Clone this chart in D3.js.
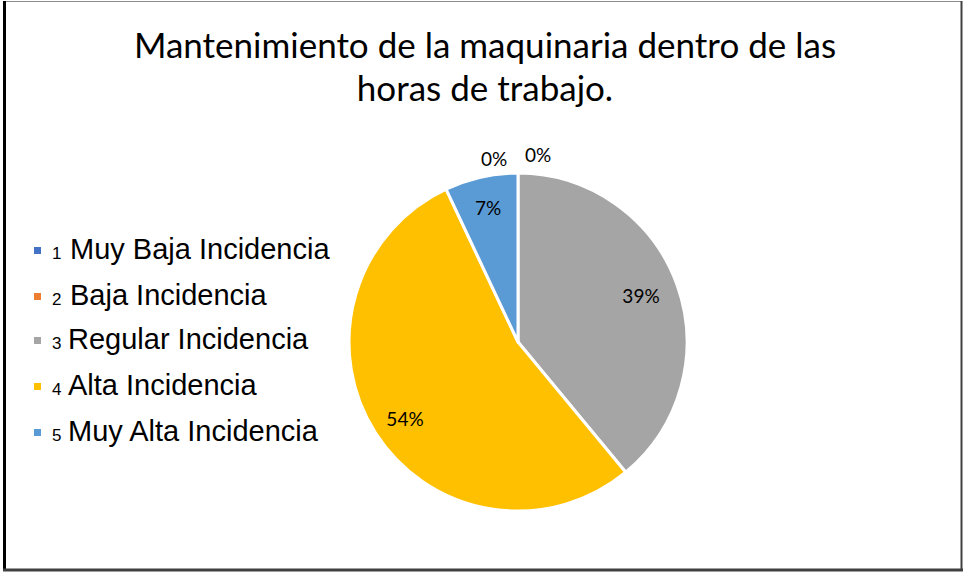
<!DOCTYPE html>
<html><head><meta charset="utf-8">
<script src="https://cdn.jsdelivr.net/npm/d3@7"></script>
<style>html,body{margin:0;padding:0;background:#fff;}svg{display:block;}</style>
</head><body>
<svg id="c" width="963" height="572"></svg>
<script>
const titleLines = ["Mantenimiento de la maquinaria dentro de las", "horas de trabajo."];
const categoryNums = ["1", "2", "3", "4", "5"];
const categories = ["Muy Baja Incidencia", "Baja Incidencia", "Regular Incidencia", "Alta Incidencia", "Muy Alta Incidencia"];
const values = [0, 0, 39, 54, 7];
const colors = ["#4472C4", "#ED7D31", "#A5A5A5", "#FFC000", "#5B9BD5"];
const labelPos = [[494, 158], [538, 154], [641, 295], [405, 418], [488, 207]];

const svg = d3.select("#c");
svg.append("rect").attr("x",0).attr("y",0).attr("width",963).attr("height",572).attr("fill","#fff");
// frame
svg.append("line").attr("x1",3).attr("x2",962).attr("y1",1.5).attr("y2",1.5).attr("stroke","#8a8a8a").attr("stroke-width",1);
svg.append("line").attr("x1",4.5).attr("x2",4.5).attr("y1",1).attr("y2",571).attr("stroke","#000").attr("stroke-width",3);
svg.append("line").attr("x1",961.5).attr("x2",961.5).attr("y1",1).attr("y2",571).attr("stroke","#404040").attr("stroke-width",2);
svg.append("line").attr("x1",3).attr("x2",963).attr("y1",570).attr("y2",570).attr("stroke","#404040").attr("stroke-width",3);

// title
svg.append("g").selectAll("text").data(titleLines).join("text")
  .attr("x", 485).attr("y", (d,i)=> 58 + i*43)
  .attr("text-anchor","middle")
  .attr("font-family","Lato, 'Open Sans', sans-serif")
  .attr("font-size", 35)
  .attr("fill","#000")
  .text(d=>d);

// pie
const cx = 518, cy = 342, r = 169;
const pie = d3.pie().sort(null).value(d=>d)(values);
const arc = d3.arc().innerRadius(0).outerRadius(r);
const g = svg.append("g").attr("transform",`translate(${cx},${cy})`);
g.selectAll("path").data(pie).join("path")
  .attr("d", arc)
  .attr("fill",(d,i)=>colors[i])
  .attr("stroke","#fff").attr("stroke-width",3).attr("stroke-linejoin","round");

// data labels
svg.append("g").selectAll("text").data(pie).join("text")
  .attr("x",(d,i)=>labelPos[i][0]).attr("y",(d,i)=>labelPos[i][1])
  .attr("text-anchor","middle").attr("dominant-baseline","central")
  .attr("font-family","Lato, 'Open Sans', sans-serif").attr("font-size",19)
  .attr("fill","#000")
  .text(d=>Math.round(d.data)+"%");

// legend
const rowY = [250, 296, 340, 386, 432];
const lg = svg.append("g");
const rows = lg.selectAll("g").data(categories).join("g")
  .attr("transform",(d,i)=>`translate(0,${rowY[i]})`);
rows.append("rect").attr("x",34).attr("y",-3).attr("width",7).attr("height",7).attr("fill",(d,i)=>colors[i]);
rows.append("text").attr("x",52).attr("y",9)
  .attr("font-family","'Liberation Sans', Arial, sans-serif").attr("font-size",17)
  .text((d,i)=>categoryNums[i]);
rows.append("text").attr("x",(d,i)=> i<2 ? 70 : 68).attr("y",9)
  .attr("font-family","'Liberation Sans', Arial, sans-serif").attr("font-size",29)
  .text(d=>d);
</script>
</body></html>
